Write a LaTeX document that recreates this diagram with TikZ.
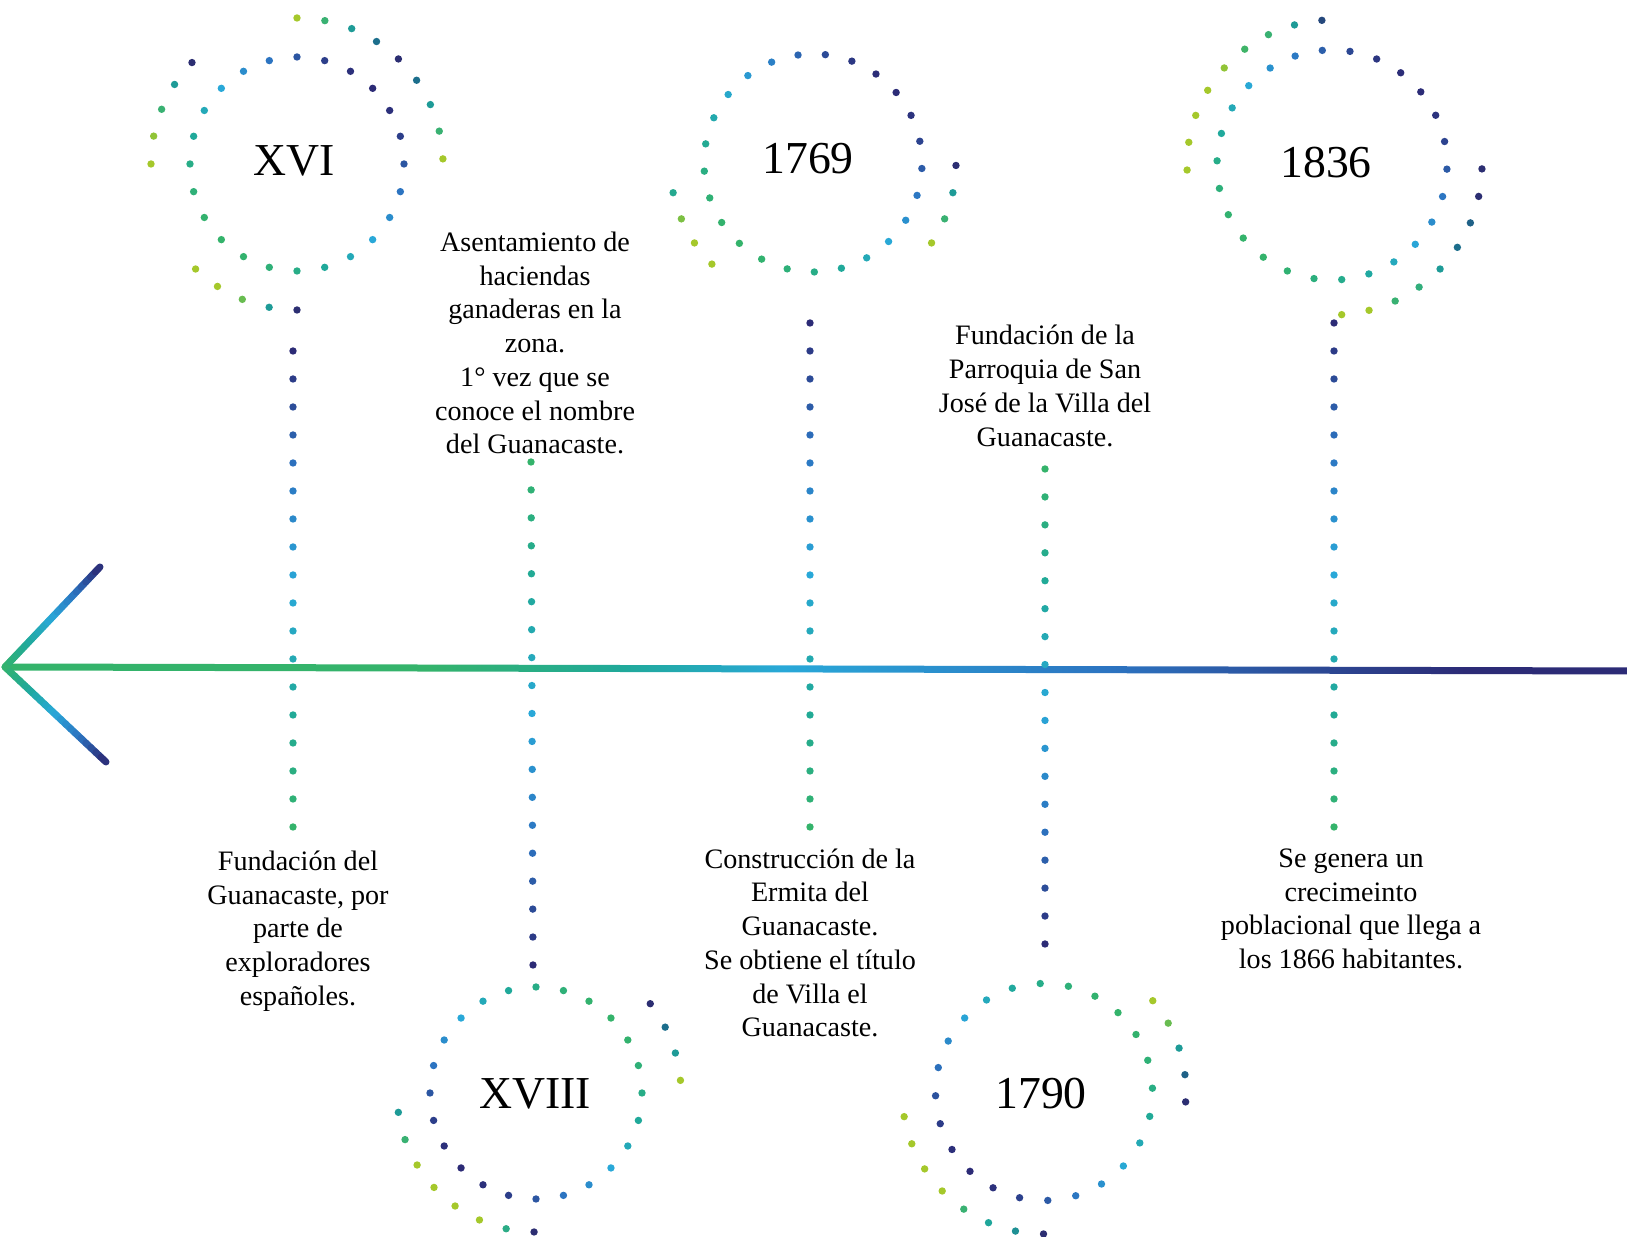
\documentclass[tikz,border=0pt]{standalone}
\usepackage{fontspec}
\setmainfont{Liberation Serif}
\usetikzlibrary{calc}
\definecolor{in0}{HTML}{34B36B}
\definecolor{in1}{HTML}{20A99A}
\definecolor{in2}{HTML}{29A8D8}
\definecolor{in3}{HTML}{2C74C1}
\definecolor{in4}{HTML}{2C2B76}
\definecolor{out0}{HTML}{A5C82B}
\definecolor{out1}{HTML}{3FB468}
\definecolor{out2}{HTML}{1FA69A}
\definecolor{out3}{HTML}{1C6E8C}
\definecolor{out4}{HTML}{2C2E72}
\pgfdeclarehorizontalshading{axisshade}{100bp}{color(0bp)=(in0); color(38bp)=(in0); color(44bp)=(in1); color(49bp)=(in2); color(59bp)=(in3); color(70bp)=(in4); color(100bp)=(in4)}
\newcommand\tlcol[2]{%
  \pgfmathtruncatemacro\tlseg{max(0,min(3,floor(#2/25)))}%
  \pgfmathtruncatemacro\tlnxt{\tlseg+1}%
  \pgfmathsetmacro\tlmix{max(0,min(100,(#2-25*\tlseg)*4))}%
  \edef\tlexpr{#1\tlnxt!\tlmix!#1\tlseg}%
  \colorlet{dotcol}{\tlexpr}}
\newcommand\ringdots[5]{% centre, radius, dots, first angle, darkest angle
  \foreach \k in {1,...,#3}{%
    \pgfmathsetmacro\rang{#4+360*(\k-1)/#3}%
    \pgfmathsetmacro\dott{50*(1+cos(\rang-#5))}%
    \tlcol{in}{\dott}%
    \fill[dotcol] ($(#1)+(\rang:#2)$) circle[radius=0.037cm];}}
\newcommand\arcdots[5]{% centre, radius, first angle, step, shades
  \foreach \sh [count=\k] in {#5}{%
    \pgfmathsetmacro\rang{#3+(\k-1)*(#4)}%
    \tlcol{out}{\sh}%
    \fill[dotcol] ($(#1)+(\rang:#2)$) circle[radius=0.037cm];}}
\newcommand\dotlink[5]{% from, to, dots, shade at from, shade at to
  \pgfmathtruncatemacro\lastk{#3-1}%
  \foreach \k in {0,...,\lastk}{%
    \pgfmathsetmacro\dott{#4+(#5-#4)*\k/\lastk}%
    \tlcol{in}{\dott}%
    \fill[dotcol] ($(#1)!\k/\lastk!(#2)$) circle[radius=0.037cm];}}

\begin{document}
\begin{tikzpicture}[x=0.01cm,y=0.01cm,
 lbl/.style={font=\fontsize{8}{9.6}\selectfont,align=center,inner sep=0pt},
 yr/.style={font=\fontsize{13}{15}\selectfont,inner sep=0pt},
 arm/.style={line width=0.07cm,line cap=round}]
\useasboundingbox (0,0) rectangle (1627,1237);
\coordinate (tip) at (5,570); \coordinate (armup) at (100,670); \coordinate (armdn) at (106,475);
\coordinate (axend) at (1627,566);
\shade[shading=axisshade] ($(tip)+(0,3.5)$) -- ($(axend)+(0,3.5)$) -- ($(axend)+(0,-3.5)$) -- ($(tip)+(0,-3.5)$) -- cycle;
\foreach \e in {armup,armdn}{\foreach \k in {0,...,19}{\pgfmathsetmacro\dott{5*\k+2.5}\tlcol{in}{\dott}%
  \draw[arm,dotcol] ($(tip)!\k/20!(\e)$) -- ($(tip)!\k/20+0.05!(\e)$);}}

\coordinate (r1) at (297,1073); \coordinate (r2) at (536,144); \coordinate (r3) at (813,1074);
\coordinate (r4) at (1044,145); \coordinate (r5) at (1332,1072);
\node[yr] (c1) at (294,1076) {XVI};
\node[yr] (c2) at (535,143) {XVIII};
\node[yr] (c3) at (808,1078) {1769};
\node[yr] (c4) at (1041,143) {1790};
\node[yr] (c5) at (1326,1074) {1836};

\ringdots{r1}{107}{24}{90}{45}
\arcdots{r1}{146}{90}{-11}{0,30,55,75,100,75,55,30,0}
\arcdots{r1}{146}{136}{11}{100,55,30,5,0}
\arcdots{r1}{146}{-134}{11}{0,0,15,55,100}
\ringdots{r2}{106}{24}{90}{225}
\arcdots{r2}{145}{38}{-11}{100,75,55,0}
\arcdots{r2}{139}{188}{11.6}{55,30,0,0,0,0,40,100}
\ringdots{r3}{109}{25}{83.5}{45}
\arcdots{r3}{143}{192}{11}{45,10,0,0}
\arcdots{r3}{143}{-1}{-11}{100,55,30,0}
\ringdots{r4}{108.5}{24}{92}{225}
\arcdots{r4}{142}{40}{-11}{0,15,55,80,100}
\arcdots{r4}{142}{190}{11.4}{0,0,0,0,30,50,60,100}
\ringdots{r5}{115}{26}{81}{45}
\arcdots{r5}{145}{94}{11}{90,55,30,25,5,0,0,0,0}
\arcdots{r5}{150}{-1.5}{-10.6}{100,100,80,75,55,35,30,0,0}

\node[lbl] (f1) at (298,306) {Fundación del\\Guanacaste, por\\parte de\\exploradores\\españoles.};
\node[lbl] (f2) at (535,894) {Asentamiento de\\haciendas\\ganaderas en la\\zona.\\1° vez que se\\conoce el nombre\\del Guanacaste.};
\node[lbl] (f3) at (810,294) {Construcción de la\\Ermita del\\Guanacaste.\\Se obtiene el título\\de Villa el\\Guanacaste.};
\node[lbl] (f4) at (1045,851) {Fundación de la\\Parroquia de San\\José de la Villa del\\Guanacaste.};
\node[lbl] (f5) at (1351,328) {Se genera un\\crecimeinto\\poblacional que llega a\\los 1866 habitantes.};

\coordinate (k1a) at (293,886); \coordinate (k1b) at (293,410);
\coordinate (k2a) at (531,775); \coordinate (k2b) at (533,272);
\coordinate (k3a) at (810,914); \coordinate (k3b) at (810,410);
\coordinate (k4a) at (1045,768); \coordinate (k4b) at (1045,293);
\coordinate (k5a) at (1334,914); \coordinate (k5b) at (1334,410);
\dotlink{k1a}{k1b}{18}{100}{0}
\dotlink{k2a}{k2b}{19}{0}{100}
\dotlink{k3a}{k3b}{19}{100}{0}
\dotlink{k4a}{k4b}{18}{0}{100}
\dotlink{k5a}{k5b}{19}{100}{0}
\end{tikzpicture}
\end{document}
